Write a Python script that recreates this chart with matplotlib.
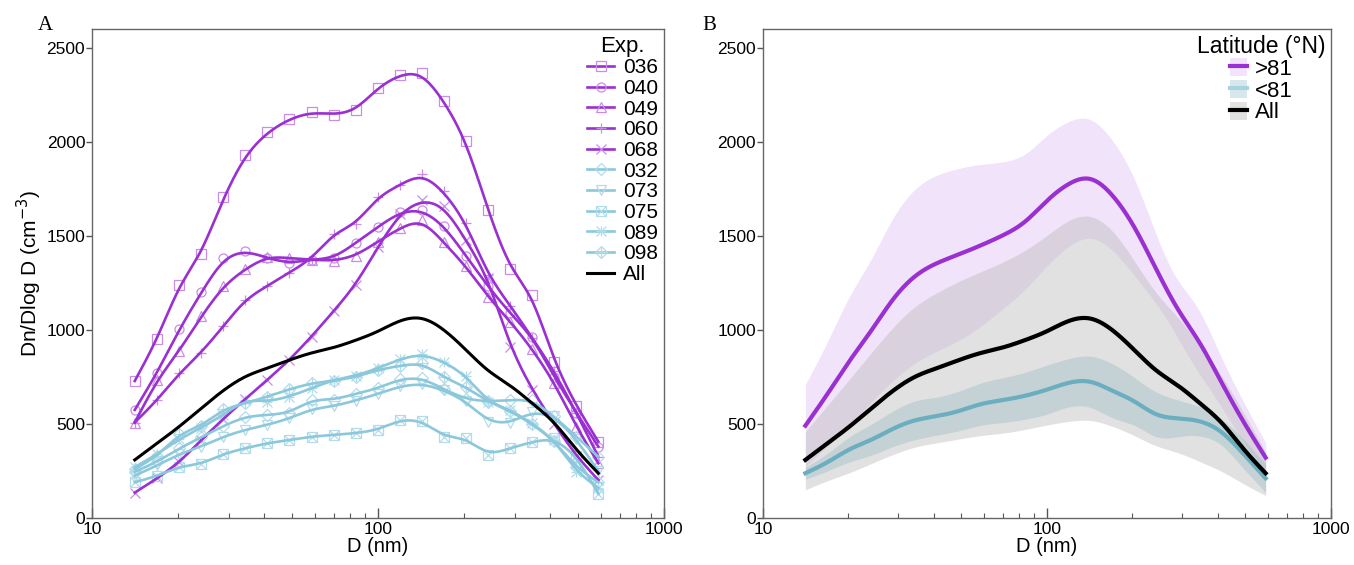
import numpy as np
import matplotlib
matplotlib.use('Agg')
import matplotlib.pyplot as plt
from matplotlib.lines import Line2D
from matplotlib.patches import Patch
from matplotlib.legend_handler import HandlerTuple

plt.rcParams['font.family'] = ['Liberation Sans', 'DejaVu Sans']

# ---------------- data ----------------
D = [14.1, 16.9, 20.2, 24.1, 28.8, 34.3, 41.0, 49.0, 58.5, 69.9, 83.5,
     99.7, 119.0, 142.2, 169.8, 202.8, 242.2, 289.3, 345.5, 412.7, 493.0, 588.8]

exp_036 = [729, 953, 1241, 1406, 1706, 1929, 2052, 2123, 2158, 2146, 2169,
           2288, 2359, 2368, 2220, 2007, 1636, 1326, 1187, 832, 596, 406]
exp_040 = [575, 774, 1005, 1200, 1383, 1422, 1383, 1356, 1374, 1383, 1463,
           1548, 1626, 1640, 1555, 1395, 1232, 1090, 965, 752, 560, 380]
exp_049 = [508, 735, 891, 1072, 1235, 1324, 1390, 1383, 1374, 1368, 1395,
           1470, 1542, 1587, 1466, 1338, 1178, 1045, 900, 720, 486, 291]
exp_060 = [508, 628, 770, 880, 1022, 1161, 1235, 1306, 1379, 1512, 1565,
           1706, 1773, 1830, 1738, 1569, 1294, 1130, 960, 780, 560, 326]
exp_068 = [135, 211, 297, 415, 529, 632, 735, 841, 965, 1100, 1241,
           1440, 1619, 1693, 1658, 1480, 1276, 912, 682, 500, 330, 202]
exp_032 = [245, 300, 370, 430, 490, 539, 548, 560, 628, 630, 660,
           690, 739, 745, 685, 632, 620, 628, 628, 540, 433, 326]
exp_073 = [225, 280, 340, 380, 433, 469, 495, 530, 579, 595, 625,
           660, 700, 715, 680, 620, 513, 504, 566, 540, 420, 250]
exp_075 = [190, 224, 273, 288, 341, 371, 398, 415, 433, 442, 451,
           469, 522, 518, 433, 424, 335, 371, 405, 424, 330, 130]
exp_089 = [270, 340, 420, 480, 550, 628, 619, 646, 690, 735, 756,
           797, 845, 872, 832, 756, 619, 575, 504, 415, 247, 160]
exp_098 = [260, 330, 447, 490, 579, 610, 646, 685, 717, 730, 750,
           788, 810, 824, 749, 696, 619, 570, 500, 410, 270, 190]
all_mean = [309, 398, 486, 584, 682, 756, 797, 841, 880, 905, 945,
            990, 1054, 1074, 1006, 895, 779, 708, 611, 513, 362, 238]
all_hi = [460, 600, 740, 880, 1020, 1130, 1200, 1260, 1310, 1360, 1420,
          1500, 1590, 1620, 1540, 1370, 1190, 1070, 920, 760, 560, 350]
all_lo = [150, 200, 240, 290, 340, 380, 400, 420, 440, 450, 470,
          495, 515, 525, 490, 440, 380, 350, 300, 250, 180, 120]

high_names = ['036', '040', '049', '060', '068']
low_names = ['032', '073', '075', '089', '098']
high_series = [exp_036, exp_040, exp_049, exp_060, exp_068]
low_series = [exp_032, exp_073, exp_075, exp_089, exp_098]

# ---------------- styles ----------------
PURPLE = '#9a2fd2'
PURPLE_M = '#c98de8'
BLUE = '#8cc8dc'
BLUE_M = '#b3dcea'
TEAL = '#6aaebf'
LAV = '#f1e3f9'

high_mk = [['s'], ['o'], ['^'], ['+'], ['x']]
low_mk = [['D'], ['v'], ['s', 'x'], ['+', 'x'], ['D', '+']]


def natural_cubic(x, y, xf):
    x = np.asarray(x, float); y = np.asarray(y, float)
    n = len(x); h = np.diff(x)
    A = np.zeros((n, n)); r = np.zeros(n)
    A[0, 0] = 1; A[-1, -1] = 1
    for i in range(1, n - 1):
        A[i, i - 1] = h[i - 1]; A[i, i] = 2 * (h[i - 1] + h[i]); A[i, i + 1] = h[i]
        r[i] = 3 * ((y[i + 1] - y[i]) / h[i] - (y[i] - y[i - 1]) / h[i - 1])
    c = np.linalg.solve(A, r)
    b = (y[1:] - y[:-1]) / h - h * (2 * c[:-1] + c[1:]) / 3
    d = (c[1:] - c[:-1]) / (3 * h)
    idx = np.clip(np.searchsorted(x, xf) - 1, 0, n - 2)
    t = xf - x[idx]
    return y[idx] + b[idx] * t + c[idx] * t ** 2 + d[idx] * t ** 3


lx = np.log10(D)
lxf = np.linspace(lx[0], lx[-1], 600)
Df = 10 ** lxf


def smooth_curve(vals):
    v = np.asarray(vals, float)
    s = v.copy()
    s[1:-1] = 0.15 * v[:-2] + 0.7 * v[1:-1] + 0.15 * v[2:]
    return natural_cubic(lx, s, lxf)


fig = plt.figure(figsize=(13.54, 5.65), dpi=100)
axA = fig.add_axes([0.068, 0.0832, 0.4225, 0.865])
axB = fig.add_axes([0.5635, 0.0832, 0.4195, 0.865])


def style_axis(ax):
    ax.set_xscale('log')
    ax.set_xlim(10, 1000)
    ax.set_ylim(0, 2600)
    ax.set_yticks([0, 500, 1000, 1500, 2000, 2500])
    ax.set_xticks([10, 100, 1000])
    ax.set_xticklabels(['10', '100', '1000'])
    ax.tick_params(axis='x', which='major', direction='in', length=7, width=1,
                   labelsize=12.5, pad=3, color='#555555')
    ax.tick_params(axis='x', which='minor', direction='in', length=3.5, width=0.8,
                   color='#555555')
    ax.tick_params(axis='y', which='major', direction='out', length=4, width=1,
                   labelsize=12.5, pad=1, color='#555555')
    for sp in ax.spines.values():
        sp.set_color('#666666')
        sp.set_linewidth(1.0)
    ax.set_xlabel('D (nm)', fontsize=14.5, labelpad=0)


# ---------------- panel A ----------------
handles = []
labels = []
for names, series, mks, lc, mc in [(high_names, high_series, high_mk, PURPLE, PURPLE_M),
                                   (low_names, low_series, low_mk, BLUE, BLUE_M)]:
    for name, vals, mk in zip(names, series, mks):
        axA.plot(Df, smooth_curve(vals), color=lc, lw=1.9, zorder=3)
        parts = [Line2D([], [], color=lc, lw=1.9)]
        for m in mk:
            axA.plot(D, vals, linestyle='none', marker=m, ms=6.5, mfc='none',
                     mec=mc, mew=0.9, zorder=2)
            parts.append(Line2D([], [], linestyle='none', marker=m, ms=6.5,
                                mfc='none', mec=mc, mew=0.9))
        handles.append(tuple(parts))
        labels.append(name)

axA.plot(Df, smooth_curve(all_mean), color='black', lw=2.2, zorder=4)
handles.append((Line2D([], [], color='black', lw=2.2),))
labels.append('All')

style_axis(axA)
axA.set_ylabel('Dn/Dlog D (cm$^{-3}$)', fontsize=15, labelpad=2)
axA.legend(handles, labels, title='Exp.', loc='upper right',
           handler_map={tuple: HandlerTuple(ndivide=1, pad=0)},
           frameon=False, fontsize=15, title_fontsize=16,
           handlelength=1.3, handletextpad=0.4, labelspacing=0.08,
           borderaxespad=0.1, borderpad=0.2)

fig.text(0.028, 0.955, 'A', fontsize=15, family='Liberation Serif', va='center')
fig.text(0.519, 0.955, 'B', fontsize=15, family='Liberation Serif', va='center')

# ---------------- panel B ----------------
hi_f = np.array([smooth_curve(v) for v in high_series])
lo_f = np.array([smooth_curve(v) for v in low_series])
hi_m = hi_f.mean(axis=0); hi_s = hi_f.std(axis=0, ddof=1)
lo_m = lo_f.mean(axis=0); lo_s = lo_f.std(axis=0, ddof=1)
all_m = smooth_curve(all_mean)
all_h = smooth_curve(all_hi)
all_l = smooth_curve(all_lo)

axB.fill_between(Df, hi_m - hi_s, hi_m + hi_s, color=LAV, lw=0, zorder=1)
axB.fill_between(Df, all_l, all_h, color='#bdbdbd', alpha=0.45, lw=0, zorder=2)
axB.fill_between(Df, lo_m - lo_s, lo_m + lo_s, color='#8fb8c0', alpha=0.35, lw=0, zorder=3)
axB.plot(Df, hi_m, color=PURPLE, lw=3, zorder=5)
axB.plot(Df, lo_m, color=TEAL, lw=3, zorder=5)
axB.plot(Df, all_m, color='black', lw=3, zorder=6)

style_axis(axB)
hB = [(Patch(facecolor=LAV, edgecolor='none'), Line2D([], [], color=PURPLE, lw=3)),
      (Patch(facecolor='#d6e8ec', edgecolor='none'), Line2D([], [], color='#a8d4e2', lw=3)),
      (Patch(facecolor='#e2e2e2', edgecolor='none'), Line2D([], [], color='black', lw=3))]
axB.legend(hB, ['>81', '<81', 'All'], title='Latitude (°N)', loc='upper right',
           handler_map={tuple: HandlerTuple(ndivide=1, pad=0)},
           frameon=False, fontsize=16, title_fontsize=16.5,
           handlelength=0.75, handleheight=0.9, handletextpad=0.35, labelspacing=0.0,
           borderaxespad=0.1, borderpad=0.15)

fig.savefig('out.png', dpi=100)
